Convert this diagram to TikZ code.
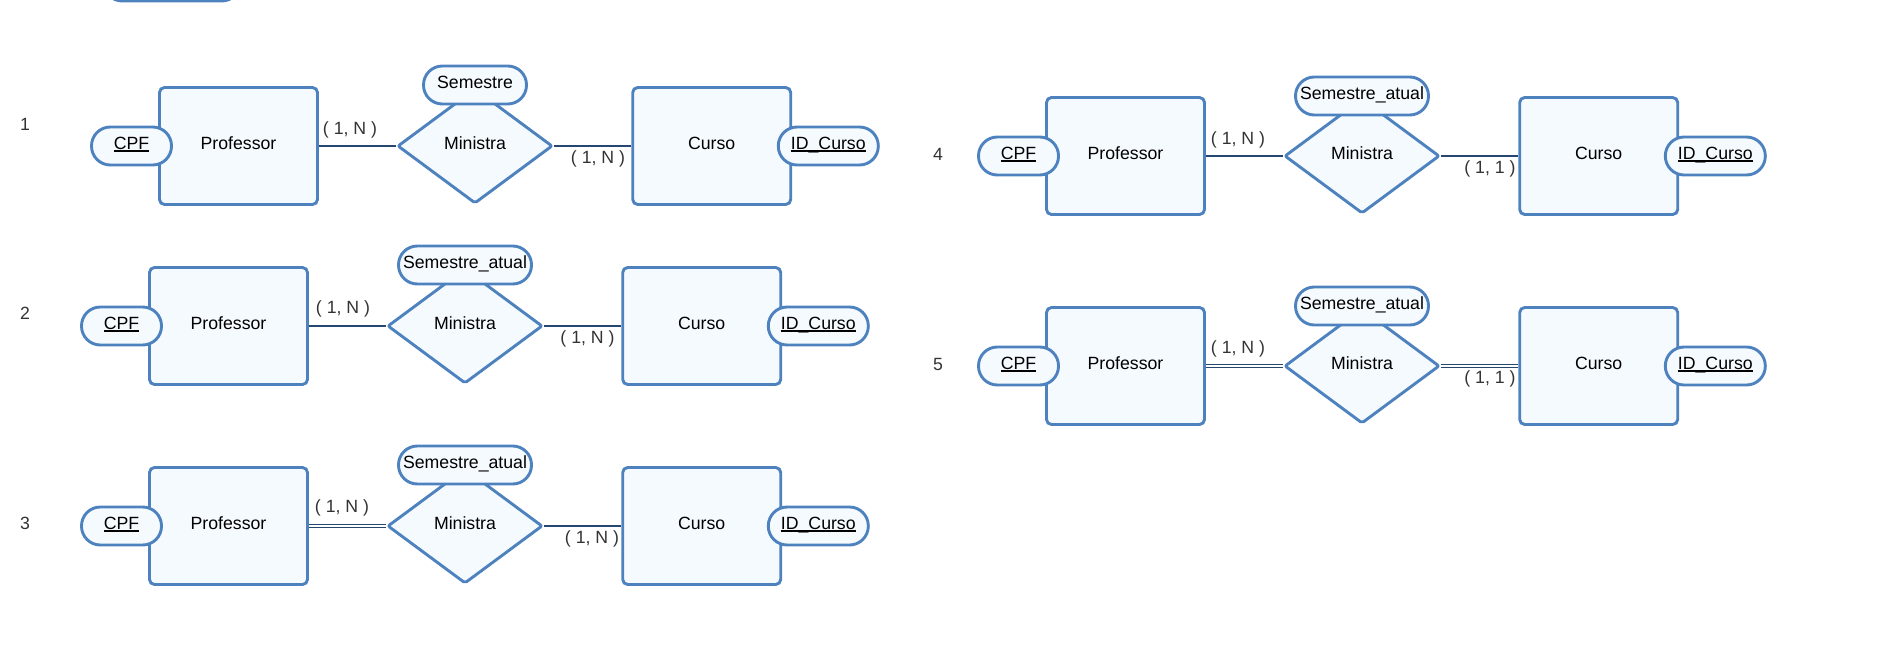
\documentclass[tikz,border=0pt]{standalone}
\usepackage{fontspec}
\setmainfont{Liberation Sans}
\usetikzlibrary{shapes.geometric}
\definecolor{erline}{RGB}{78,130,190}
\definecolor{erfill}{RGB}{245,250,255}
\definecolor{erlink}{RGB}{37,71,112}
\definecolor{ertext}{RGB}{51,51,51}
\newcommand\erkey[1]{\setbox0\hbox{#1}\rlap{\rule[-0.13em]{\wd0}{0.07em}}\box0}

\begin{document}
\begin{tikzpicture}[x=0.5pt,y=-0.5pt,
    every node/.style={font=\fontsize{8.85}{10.6}\selectfont},
    entity/.style={draw=erline,fill=erfill,line width=1.45pt,rounded corners=2.5pt,
        minimum width=79pt,minimum height=58.5pt,inner sep=0pt,text height=0.72em,text depth=0.38em},
    attr/.style={draw=erline,fill=erfill,line width=1.45pt,rounded corners=9.4pt,
        minimum height=19pt,inner sep=0pt,text height=0.72em,text depth=0.38em},
    rel/.style={diamond,draw=erline,fill=erfill,line width=1.45pt,rounded corners=1pt,
        minimum width=77.5pt,minimum height=57.5pt,inner sep=0pt,text height=0.72em,text depth=0.38em},
    link/.style={draw=erlink,line width=0.9pt},
    dlink/.style={draw=erlink,line width=0.65pt,double=white,double distance=0.55pt},
    card/.style={text=ertext},
    num/.style={text=ertext}]
    \useasboundingbox (0,0) rectangle (1878,648);
    \node[attr,minimum width=68.5pt] (top0) at (172,-18) {}; % cut at the top

    % diagram 1
    \node[num] (n1) at (25,124) {1};
    \node[entity] (prof1) at (238.5,146) {Professor};
    \node[rel] (min1) at (475,146) {Ministra};
    \node[entity] (curso1) at (711.7,146) {Curso};
    \draw[link] (prof1.east) -- (min1.west);
    \draw[link] (min1.east) -- (curso1.west);
    \node[attr,minimum width=40pt] (cpf1) at (131.5,146) {\erkey{CPF}};
    \node[attr,minimum width=50pt] (idc1) at (828.3,146) {\erkey{ID\_Curso}};
    \node[attr,minimum width=51.5pt] (sem1) at (475,85) {Semestre};
    \node[card] (c1a) at (350,130) {( 1, N )};
    \node[card] (c1b) at (598,159) {( 1, N )};

    % diagram 2
    \node[num] (n2) at (25,313) {2};
    \node[entity] (prof2) at (228.5,326) {Professor};
    \node[rel] (min2) at (465,326) {Ministra};
    \node[entity] (curso2) at (701.7,326) {Curso};
    \draw[link] (prof2.east) -- (min2.west);
    \draw[link] (min2.east) -- (curso2.west);
    \node[attr,minimum width=40pt] (cpf2) at (121.5,326) {\erkey{CPF}};
    \node[attr,minimum width=50pt] (idc2) at (818.3,326) {\erkey{ID\_Curso}};
    \node[attr,minimum width=66.5pt] (sem2) at (465,265) {Semestre\_atual};
    \node[card] (c2a) at (343,309) {( 1, N )};
    \node[card] (c2b) at (587.5,339) {( 1, N )};

    % diagram 3
    \node[num] (n3) at (25,523) {3};
    \node[entity] (prof3) at (228.5,526) {Professor};
    \node[rel] (min3) at (465,526) {Ministra};
    \node[entity] (curso3) at (701.7,526) {Curso};
    \draw[dlink] (prof3.east) -- (min3.west); % double line
    \draw[link] (min3.east) -- (curso3.west);
    \node[attr,minimum width=40pt] (cpf3) at (121.5,526) {\erkey{CPF}};
    \node[attr,minimum width=50pt] (idc3) at (818.3,526) {\erkey{ID\_Curso}};
    \node[attr,minimum width=66.5pt] (sem3) at (465,465) {Semestre\_atual};
    \node[card] (c3a) at (342,508) {( 1, N )};
    \node[card] (c3b) at (592,539) {( 1, N )};

    % diagram 4
    \node[num] (n4) at (938,154) {4};
    \node[entity] (prof4) at (1125.5,156) {Professor};
    \node[rel] (min4) at (1362,156) {Ministra};
    \node[entity] (curso4) at (1598.7,156) {Curso};
    \draw[link] (prof4.east) -- (min4.west);
    \draw[link] (min4.east) -- (curso4.west);
    \node[attr,minimum width=40pt] (cpf4) at (1018.5,156) {\erkey{CPF}};
    \node[attr,minimum width=50pt] (idc4) at (1715.3,156) {\erkey{ID\_Curso}};
    \node[attr,minimum width=66.5pt] (sem4) at (1362,96) {Semestre\_atual};
    \node[card] (c4a) at (1238,140) {( 1, N )};
    \node[card] (c4b) at (1490,169) {( 1, 1 )};

    % diagram 5
    \node[num] (n5) at (938,364) {5};
    \node[entity] (prof5) at (1125.5,366) {Professor};
    \node[rel] (min5) at (1362,366) {Ministra};
    \node[entity] (curso5) at (1598.7,366) {Curso};
    \draw[dlink] (prof5.east) -- (min5.west); % double line
    \draw[dlink] (min5.east) -- (curso5.west); % double line
    \node[attr,minimum width=40pt] (cpf5) at (1018.5,366) {\erkey{CPF}};
    \node[attr,minimum width=50pt] (idc5) at (1715.3,366) {\erkey{ID\_Curso}};
    \node[attr,minimum width=66.5pt] (sem5) at (1362,306) {Semestre\_atual};
    \node[card] (c5a) at (1238,349) {( 1, N )};
    \node[card] (c5b) at (1490,379) {( 1, 1 )};
\end{tikzpicture}
\end{document}
